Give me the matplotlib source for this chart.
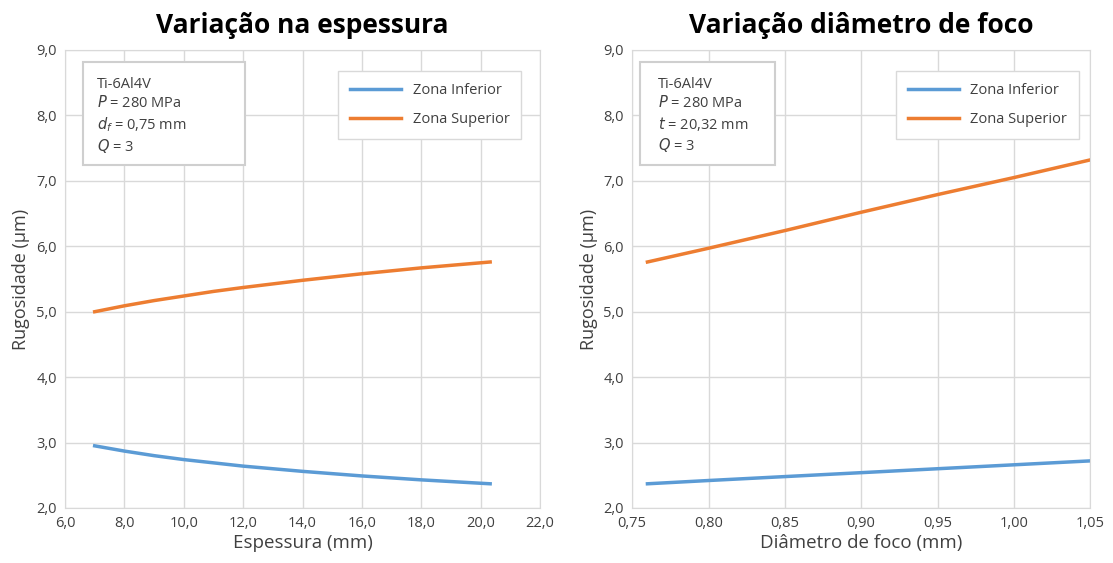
import matplotlib
matplotlib.use('Agg')
import matplotlib.pyplot as plt
from matplotlib.patches import Rectangle
from matplotlib.ticker import FuncFormatter, MultipleLocator

plt.rcParams['font.family'] = ['Open Sans', 'DejaVu Sans']
plt.rcParams['mathtext.fontset'] = 'dejavusans'

# espessura
esp = [7.0, 8.0, 9.0, 10.0, 11.0, 12.0, 14.0, 16.0, 18.0, 20.32]
esp_inf = [2.95, 2.87, 2.80, 2.74, 2.69, 2.64, 2.56, 2.49, 2.43, 2.37]
esp_sup = [5.00, 5.09, 5.17, 5.24, 5.31, 5.37, 5.48, 5.58, 5.67, 5.76]

# diametro de foco
foco = [0.76, 0.80, 0.85, 0.90, 0.95, 1.00, 1.05]
foco_inf = [2.37, 2.42, 2.48, 2.54, 2.60, 2.66, 2.72]
foco_sup = [5.76, 5.97, 6.24, 6.52, 6.79, 7.05, 7.32]

azul = '#5B9BD5'
laranja = '#ED7D31'
cinza = '#D9D9D9'
texto = '#404040'

fig = plt.figure(figsize=(11.13, 5.63), dpi=100)
ax1 = fig.add_axes([0.0584, 0.0977, 0.4268, 0.8135])
ax2 = fig.add_axes([0.568, 0.0977, 0.4115, 0.8135])

def virgula(fmt):
    return FuncFormatter(lambda v, p: (fmt % v).replace('.', ','))

def estilo(ax):
    ax.set_ylim(2.0, 9.0)
    ax.yaxis.set_major_locator(MultipleLocator(1.0))
    ax.yaxis.set_major_formatter(virgula('%.1f'))
    ax.grid(True, color=cinza, linewidth=1)
    ax.set_axisbelow(True)
    for s in ax.spines.values():
        s.set_color(cinza)
    ax.tick_params(length=0, labelsize=10.5, colors=texto, pad=6)
    ax.set_ylabel('Rugosidade (µm)', fontsize=13, color=texto)

def caixa(ax, x0, x1, tx, txt):
    ax.add_patch(Rectangle((x0, 0.749), x1 - x0, 0.225, transform=ax.transAxes,
                           fc='white', ec='#CFCFCF', lw=1.5, zorder=4))
    ax.text(tx, 0.94, txt, transform=ax.transAxes, va='top', ha='left',
            fontsize=10.5, linespacing=1.25, color=texto, zorder=5)

ax1.plot(esp, esp_inf, color=azul, lw=2.5, label='Zona Inferior')
ax1.plot(esp, esp_sup, color=laranja, lw=2.5, label='Zona Superior')
ax1.set_xlim(6.0, 22.0)
ax1.xaxis.set_major_locator(MultipleLocator(2.0))
ax1.xaxis.set_major_formatter(virgula('%.1f'))
estilo(ax1)
ax1.set_xlabel('Espessura (mm)', fontsize=13.5, color=texto, labelpad=2)
ax1.set_title('Variação na espessura', fontsize=19, fontweight='bold', pad=12)
caixa(ax1, 0.038, 0.379, 0.067, 'Ti-6Al4V\n$P$ = 280 MPa\n$d_f$ = 0,75 mm\n$Q$ = 3')

ax2.plot(foco, foco_inf, color=azul, lw=2.5, label='Zona Inferior')
ax2.plot(foco, foco_sup, color=laranja, lw=2.5, label='Zona Superior')
ax2.set_xlim(0.75, 1.05)
ax2.xaxis.set_major_locator(MultipleLocator(0.05))
ax2.xaxis.set_major_formatter(virgula('%.2f'))
estilo(ax2)
ax2.set_xlabel('Diâmetro de foco (mm)', fontsize=13.5, color=texto, labelpad=2)
ax2.set_title('Variação diâmetro de foco', fontsize=19, fontweight='bold', pad=12)
caixa(ax2, 0.017, 0.312, 0.057, 'Ti-6Al4V\n$P$ = 280 MPa\n$t$ = 20,32 mm\n$Q$ = 3')

for ax, bb in ((ax1, (0.56, 0.97)), (ax2, (0.56, 0.97))):
    leg = ax.legend(loc='upper left', bbox_to_anchor=bb, fontsize=10.5, fancybox=False,
                    edgecolor=cinza, framealpha=1, handlelength=3.5, labelspacing=1.0,
                    borderpad=0.8)
    for t in leg.get_texts():
        t.set_color(texto)

fig.savefig('out.png', dpi=100)
